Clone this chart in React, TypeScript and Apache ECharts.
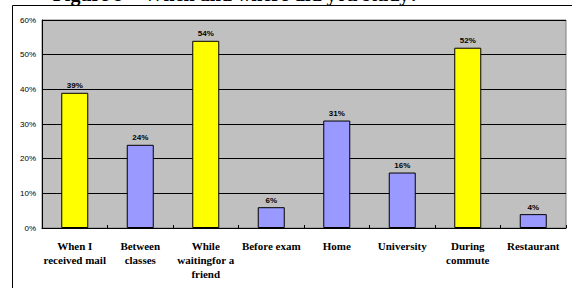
import React, { useEffect, useRef } from "react";
import * as echarts from "echarts";

const categories = [
  "When I\nreceived mail",
  "Between\nclasses",
  "While\nwaitingfor a\nfriend",
  "Before exam",
  "Home",
  "University",
  "During\ncommute",
  "Restaurant",
];
const values = [39, 24, 54, 6, 31, 16, 52, 4];
const highlighted = [true, false, true, false, false, false, true, false];
const yTicks = [0, 10, 20, 30, 40, 50, 60];
const titleText = "Figure 9 \u2013 When and where did you study?";

export default function App() {
  const ref = useRef<HTMLDivElement>(null);
  useEffect(() => {
    if (!ref.current) return;
    const chart = echarts.init(ref.current, null, { renderer: "svg" });
    chart.setOption({
      animation: false,
      backgroundColor: "#ffffff",
      graphic: [
        {
          type: "rect",
          shape: { x: 12.5, y: 5.5, width: 600, height: 320 },
          style: { fill: "none", stroke: "#000", lineWidth: 1 },
          z: 0,
        },
        {
          type: "text",
          x: 236,
          y: 4,
          style: {
            text: titleText,
            font: "bold 20px 'Liberation Serif'",
            fill: "#000",
            align: "center",
            verticalAlign: "bottom",
          },
        },
      ],
      grid: {
        left: 42,
        top: 20,
        right: 6,
        bottom: 60,
        show: true,
        backgroundColor: "#C0C0C0",
        borderColor: "#808080",
        borderWidth: 1,
      },
      xAxis: {
        type: "category",
        data: categories,
        axisLine: { show: true, lineStyle: { color: "#000", width: 1 } },
        axisTick: { show: true, inside: true, length: 3, alignWithLabel: false, lineStyle: { color: "#000" } },
        axisLabel: {
          interval: 0,
          margin: 11,
          fontFamily: "'Liberation Serif'",
          fontWeight: "bold",
          fontSize: 11,
          lineHeight: 14,
          color: "#000",
        },
      },
      yAxis: {
        type: "value",
        min: yTicks[0],
        max: yTicks[yTicks.length - 1],
        interval: 10,
        axisLine: { show: true, lineStyle: { color: "#000", width: 1 } },
        axisTick: { show: false },
        splitLine: { show: true, lineStyle: { color: "#000", width: 1 } },
        axisLabel: {
          formatter: (v: number) => v + "%",
          margin: 6,
          fontFamily: "'Liberation Sans'",
          fontSize: 8,
          color: "#000",
        },
      },
      series: [
        {
          type: "bar",
          barWidth: 27,
          data: values.map((v, i) => ({
            value: v,
            itemStyle: {
              color: highlighted[i] ? "#FFFF00" : "#9999FF",
              borderColor: "#000",
              borderWidth: 1,
            },
          })),
          label: {
            show: true,
            position: "top",
            distance: 3,
            formatter: "{c}%",
            fontFamily: "'Liberation Sans'",
            fontWeight: "bold",
            fontSize: 8,
            color: "#000",
          },
        },
      ],
    });
    return () => chart.dispose();
  }, []);
  return <div ref={ref} style={{ width: 572, height: 288, position: "absolute", left: 0, top: 0 }} />;
}
